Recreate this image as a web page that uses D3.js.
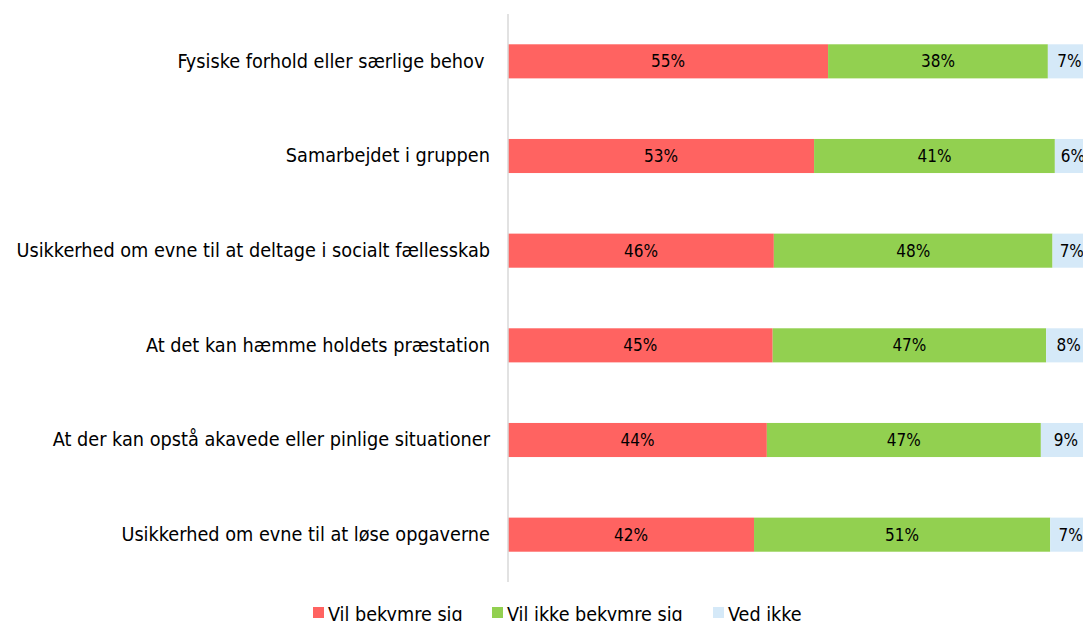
<!DOCTYPE html>
<html>
<head>
<meta charset="utf-8">
<script src="https://cdn.jsdelivr.net/npm/d3@7"></script>
<style>
  html, body { margin: 0; padding: 0; background: #fff; overflow: hidden; }
  svg { display: block; font-family: "DejaVu Sans Condensed", "DejaVu Sans", sans-serif; }
  .cat { white-space: pre; }
</style>
</head>
<body>
<svg id="chart" width="1083" height="621"></svg>
<script>
let categories = [
  "Fysiske forhold eller særlige behov ",
  "Samarbejdet i gruppen",
  "Usikkerhed om evne til at deltage i socialt fællesskab",
  "At det kan hæmme holdets præstation",
  "At der kan opstå akavede eller pinlige situationer",
  "Usikkerhed om evne til at løse opgaverne"
];
let seriesNames = ["Vil bekymre sig", "Vil ikke bekymre sig", "Ved ikke"];
let worried = [54.9, 52.5, 45.6, 45.4, 44.4, 42.2];
let notWorried = [37.7, 41.3, 47.8, 46.9, 47.0, 50.8];
let dontKnow = [7.4, 6.2, 6.6, 7.7, 8.6, 7.0];
let colors = ["#ff6361", "#92d050", "#d5e9f8"];

let width = 1083, height = 621;
let svg = d3.select('#chart');

let x = d3.scaleLinear().domain([0, 100]).range([508, 1091]);
let y = d3.scaleBand()
  .domain(categories)
  .range([14, 582])
  .paddingInner(0.64)
  .paddingOuter(0.32);

// stack the three series
let rows = categories.map(function (c, i) {
  return { cat: c, s0: worried[i], s1: notWorried[i], s2: dontKnow[i] };
});
let stack = d3.stack().keys(["s0", "s1", "s2"]);
let layers = stack(rows);

let g = svg.selectAll('.layer')
  .data(layers)
  .enter().append('g')
  .attr('class', 'layer')
  .attr('fill', function (d, i) { return colors[i]; });

g.selectAll('rect')
  .data(function (d) { return d; })
  .enter().append('rect')
  .attr('x', function (d) { return x(d[0]); })
  .attr('y', function (d) { return y(d.data.cat); })
  .attr('width', function (d) { return x(d[1]) - x(d[0]); })
  .attr('height', y.bandwidth());

// value labels
g.selectAll('text')
  .data(function (d) { return d; })
  .enter().append('text')
  .attr('x', function (d) { return (x(d[0]) + x(d[1])) / 2; })
  .attr('y', function (d) { return y(d.data.cat) + y.bandwidth() / 2; })
  .attr('dy', '0.36em')
  .attr('text-anchor', 'middle')
  .attr('font-size', 17)
  .attr('fill', '#000')
  .text(function (d) { return Math.round(d[1] - d[0]) + '%'; });

// vertical axis line
svg.append('line')
  .attr('x1', 508).attr('x2', 508)
  .attr('y1', 14).attr('y2', 582)
  .attr('stroke', '#d9d9d9')
  .attr('stroke-width', 1.5);

// category labels
let yAxis = d3.axisLeft(y).tickSize(0).tickPadding(18);
let ax = svg.append('g')
  .attr('transform', 'translate(508,0)')
  .call(yAxis);
ax.select('.domain').remove();
ax.selectAll('text')
  .attr('class', 'cat')
  .attr('font-size', 19.7)
  .attr('font-family', '"DejaVu Sans Condensed", "DejaVu Sans", sans-serif')
  .attr('fill', '#000');

// legend
let legendX = [313, 492, 713];
let legend = svg.selectAll('.legend')
  .data(seriesNames)
  .enter().append('g')
  .attr('class', 'legend')
  .attr('transform', function (d, i) { return 'translate(' + legendX[i] + ',607)'; });
legend.append('rect')
  .attr('width', 11).attr('height', 11)
  .attr('fill', function (d, i) { return colors[i]; });
legend.append('text')
  .attr('x', 15).attr('y', 13.5)
  .attr('font-size', 19.6)
  .attr('fill', '#000')
  .text(function (d) { return d; });
</script>
</body>
</html>
